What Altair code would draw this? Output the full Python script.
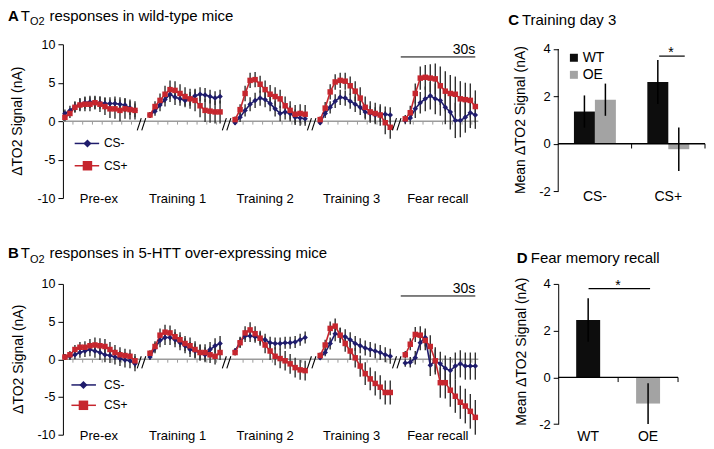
import altair as alt
import pandas as pd

FONT = "Liberation Sans"
BLUE = "#1f1c6c"
RED = "#c6262e"
ERRC = "#303030"
ZGRAY = "#9b9b9b"

# ---------------- time-course data (5 segments x 15 points) ----------------
segments = ["Pre-ex", "Training 1", "Training 2", "Training 3", "Fear recall"]
label_pos = [6.8, 5.5, 6.0, 6.3, 6.5]
series = ["CS-", "CS+"]
tick_pos = [1.6, 3.55, 5.5, 7.45, 9.4, 11.35, 13.3]
N_PTS = 15
SEG_STEP = 17

# Panel A : wild-type mice
wt_csm = [1.0, 1.4, 1.9, 2.2, 2.4, 2.5, 2.4, 2.4, 2.3, 2.3, 2.3, 2.2, 2.1, 1.7, 1.4,
          0.8, 1.3, 2.1, 2.8, 3.5, 3.1, 2.9, 2.7, 2.9, 3.3, 3.5, 3.4, 3.2, 3.0, 3.2,
          -0.2, 0.5, 1.4, 2.2, 2.7, 3.0, 2.8, 2.3, 1.6, 1.0, 1.2, 1.0, 0.5, 0.4, 0.3,
          -0.2, 1.0, 1.8, 2.6, 3.1, 3.0, 2.6, 2.2, 1.8, 1.2, 1.0, 0.8, 0.9, 0.9, 0.8,
          0.1, 0.4, 1.6, 2.4, 2.9, 3.3, 2.9, 2.7, 1.8, 1.2, 0.1, 0.1, 0.5, 1.1, 0.8]
wt_csm_err = [0.5, 0.6, 0.7, 0.8, 0.8, 0.8, 0.8, 0.8, 0.8, 0.8, 0.9, 0.9, 0.9, 0.9, 0.9,
              0.4, 0.6, 0.8, 0.9, 1.0, 1.0, 0.9, 0.9, 0.9, 0.9, 0.9, 0.9, 0.9, 0.9, 0.9,
              0.3, 0.6, 0.8, 0.9, 1.0, 1.0, 1.0, 1.0, 1.0, 1.0, 1.0, 1.0, 1.0, 1.0, 0.9,
              0.3, 0.6, 0.8, 0.9, 1.0, 1.0, 1.0, 1.0, 1.0, 1.0, 1.0, 1.0, 1.0, 1.0, 1.0,
              0.5, 0.8, 1.2, 1.4, 1.6, 1.8, 2.0, 2.0, 2.2, 2.3, 2.3, 2.2, 2.0, 2.0, 1.8]
wt_csp = [0.5, 1.0, 1.8, 2.1, 2.2, 2.2, 2.4, 2.2, 1.9, 1.6, 1.6, 1.4, 1.6, 1.5, 1.4,
          0.8, 1.9, 2.7, 3.5, 4.1, 4.0, 3.6, 3.2, 2.9, 2.7, 2.0, 1.4, 1.3, 1.2, 1.2,
          0.2, 1.5, 3.6, 5.3, 5.4, 4.8, 4.1, 3.5, 3.2, 2.9, 2.0, 1.4, 0.9, 1.0, 0.9,
          0.2, 1.7, 3.8, 5.1, 5.3, 5.2, 4.6, 3.9, 3.0, 1.8, 1.2, 1.0, 0.8, -0.2, -0.8,
          0.3, 1.1, 3.6, 5.6, 5.7, 5.6, 5.5, 4.6, 3.9, 3.6, 3.5, 2.9, 2.8, 2.7, 1.9]
wt_csp_err = [0.5, 0.6, 0.7, 0.8, 0.9, 0.9, 0.9, 1.0, 1.1, 1.2, 1.3, 1.4, 1.3, 1.3, 1.2,
              0.4, 0.7, 0.9, 1.1, 1.2, 1.2, 1.2, 1.2, 1.3, 1.4, 1.5, 1.5, 1.5, 1.5, 1.5,
              0.4, 0.7, 1.0, 1.0, 1.0, 1.1, 1.2, 1.2, 1.2, 1.2, 1.2, 1.2, 1.2, 1.2, 1.2,
              0.4, 0.8, 1.0, 1.0, 1.0, 1.1, 1.2, 1.3, 1.4, 1.4, 1.4, 1.4, 1.4, 1.5, 1.5,
              0.5, 0.9, 1.3, 1.5, 1.6, 1.8, 2.0, 2.5, 2.6, 2.4, 2.3, 2.3, 2.2, 2.2, 2.1]

# Panel B : 5-HTT over-expressing mice
oe_csm = [0.3, 0.4, 0.6, 0.9, 1.1, 1.3, 1.1, 0.9, 0.6, 0.5, 0.3, 0.1, -0.1, -0.2, -0.6,
          0.3, 1.5, 2.5, 2.9, 2.9, 2.6, 2.2, 1.8, 1.3, 1.1, 0.9, 0.6, 1.3, 1.8, 2.1,
          1.1, 2.3, 3.1, 3.1, 3.0, 2.8, 2.6, 2.2, 2.1, 2.1, 2.2, 2.2, 2.3, 2.6, 2.9,
          0.2, 0.9, 2.1, 3.4, 3.2, 3.0, 2.6, 2.1, 1.8, 1.5, 1.3, 1.1, 0.9, 0.6, 0.4,
          -0.5, -0.4, 0.2, 2.2, 2.9, -0.8, -0.2, -0.6, -1.2, -1.5, -0.9, -0.6, -0.9, -0.9, -0.9]
oe_csm_err = [0.4, 0.5, 0.6, 0.7, 0.8, 0.9, 0.9, 1.0, 1.0, 1.0, 1.0, 1.0, 1.0, 1.0, 1.0,
              0.4, 0.7, 0.9, 1.0, 1.0, 1.0, 1.0, 1.0, 1.0, 1.0, 1.0, 1.0, 1.0, 1.0, 1.0,
              0.4, 0.7, 0.8, 0.8, 0.8, 0.8, 0.8, 0.8, 0.8, 0.8, 0.8, 0.8, 0.8, 0.8, 0.8,
              0.3, 0.5, 0.8, 1.0, 1.0, 1.0, 1.0, 1.0, 1.0, 1.0, 1.0, 1.0, 1.0, 1.0, 1.0,
              0.5, 0.7, 0.9, 1.0, 1.2, 1.4, 1.5, 1.6, 1.7, 1.8, 1.8, 1.8, 1.8, 1.8, 1.8]
oe_csp = [0.3, 0.6, 1.3, 1.6, 1.6, 1.8, 1.9, 1.8, 1.7, 1.3, 0.9, 0.6, 0.5, 0.4, -0.2,
          0.8, 1.7, 3.2, 3.6, 3.5, 3.0, 2.6, 2.1, 1.8, 1.3, 0.9, 0.9, 0.6, 0.4, 0.9,
          0.9, 2.2, 3.5, 3.9, 3.4, 2.8, 1.9, 1.1, 0.4, 0.1, -0.2, -0.6, -1.1, -1.4, -1.5,
          0.5, 1.9, 4.1, 4.4, 3.2, 2.1, 1.1, 0.2, -0.9, -1.9, -2.6, -3.2, -3.7, -4.4, -4.4,
          0.6, 2.0, 3.3, 3.2, 2.5, 1.7, -0.2, -3.1, -3.1, -4.1, -4.9, -5.7, -6.2, -6.9, -7.7]
oe_csp_err = [0.4, 0.5, 0.6, 0.7, 0.8, 0.9, 1.0, 1.0, 1.0, 1.0, 1.0, 1.0, 0.9, 0.9, 0.9,
              0.4, 0.7, 0.9, 1.0, 1.0, 1.0, 1.0, 1.0, 1.1, 1.1, 1.1, 1.1, 1.1, 1.1, 1.0,
              0.4, 0.7, 0.9, 1.0, 1.0, 1.0, 1.1, 1.2, 1.2, 1.3, 1.3, 1.3, 1.3, 1.3, 1.3,
              0.4, 0.7, 0.9, 1.0, 1.0, 1.1, 1.2, 1.3, 1.4, 1.5, 1.5, 1.6, 1.6, 1.6, 1.6,
              0.5, 0.8, 1.0, 1.2, 1.3, 1.5, 1.8, 2.0, 2.1, 2.2, 2.2, 2.2, 2.3, 2.3, 2.3]

# ---------------- bar data ----------------
groups = ["WT", "OE"]
conds = ["CS-", "CS+"]
c_wt_mean = [1.36, 2.61]
c_wt_err = [0.68, 0.93]
c_oe_mean = [1.86, -0.23]
c_oe_err = [0.68, 0.92]
d_mean = [2.46, -1.12]
d_err = [0.93, 0.87]
BAR_COLORS = ["#0d0d0d", "#a3a3a3"]

one = pd.DataFrame({"k": [0]})
HYPHEN = "'' + datum.value"


def tc_frame(csm, csm_e, csp, csp_e):
    rows = []
    for name, m, e in (("CS-", csm, csm_e), ("CS+", csp, csp_e)):
        for i, (v, s) in enumerate(zip(m, e)):
            seg = i // N_PTS
            rows.append(dict(series=name, seg=seg, idx=seg * SEG_STEP + i % N_PTS,
                             val=v, lo=v - s, hi=v + s))
    return pd.DataFrame(rows)


def tc_panel(df, height, letter, title_text, base_y, ytitle_x, leg_x, leg_y, sb_y):
    xs = alt.Scale(domain=[-0.4, 82.6], nice=False, zero=False)
    ys = alt.Scale(domain=[-10, 10], nice=False, zero=False)
    yax = alt.Axis(values=[-10, -5, 0, 5, 10], grid=False, tickSize=5, labelPadding=3,
                   labelFontSize=12.5, domainColor="black", tickColor="black",
                   labelColor="black", domainWidth=1, tickWidth=1, labelExpr=HYPHEN)

    def XF(f):
        return alt.X(f, scale=xs, axis=None, title=None)

    def XD(v):
        return alt.XDatum(v, scale=xs, axis=None, title=None)

    def YF(f):
        return alt.Y(f, scale=ys, axis=yax, title=None)

    def YD(v):
        return alt.YDatum(v, scale=ys, axis=yax, title=None)

    col = alt.Color("series:N", scale=alt.Scale(domain=series, range=[BLUE, RED]), legend=None)
    shp = alt.Shape("series:N", scale=alt.Scale(domain=series, range=["diamond", "square"]), legend=None)

    zero = alt.Chart(one).mark_rule(color=ZGRAY, strokeWidth=1.5).encode(y=YD(0))
    tick_df = pd.DataFrame({"tx": [s * SEG_STEP + p for s in range(5) for p in tick_pos]})
    ticks = alt.Chart(tick_df).mark_rule(color=ZGRAY, strokeWidth=1).encode(
        x=XF("tx:Q"), y=YD(0), y2=alt.datum(-0.45))

    brk = []
    for k in range(1, 5):
        c = k * SEG_STEP - 1.7
        brk.append(dict(x1=c - 0.85, y1=-1.2, x2=c - 0.05, y2=0.4))
        brk.append(dict(x1=c + 0.05, y1=-1.2, x2=c + 0.85, y2=0.4))
    breaks = alt.Chart(pd.DataFrame(brk)).mark_rule(color="black", strokeWidth=1.1).encode(
        x=XF("x1:Q"), y=YF("y1:Q"), x2="x2:Q", y2="y2:Q")

    errs = alt.Chart(df).mark_rule(color=ERRC, strokeWidth=1.4).encode(
        x=XF("idx:Q"), y=YF("lo:Q"), y2="hi:Q")
    lines = alt.Chart(df).mark_line(strokeWidth=1.6).encode(
        x=XF("idx:Q"), y=YF("val:Q"), color=col, detail="seg:N")
    pts = alt.Chart(df).mark_point(filled=True, size=30, opacity=1).encode(
        x=XF("idx:Q"), y=YF("val:Q"), color=col, shape=shp)

    lab_df = pd.DataFrame({"label": segments,
                           "cx": [i * SEG_STEP + p for i, p in enumerate(label_pos)]})
    labels = alt.Chart(lab_df).mark_text(fontSize=13, baseline="alphabetic", dy=5,
                                         align="center").encode(
        x=XF("cx:Q"), y=YD(-10), text="label:N")

    sbar = alt.Chart(one).mark_rule(color="black", strokeWidth=1).encode(
        x=XD(67.1), x2=alt.datum(82), y=YD(sb_y))
    stext = alt.Chart(one).mark_text(align="right", baseline="alphabetic", dy=-3,
                                     fontSize=14).encode(
        x=XD(82), y=YD(sb_y), text=alt.value("30s"))

    leg_df = pd.DataFrame({"series": series, "ly": leg_y,
                           "x1": [leg_x[0]] * 2, "x2": [leg_x[1]] * 2,
                           "xm": [leg_x[2]] * 2, "xt": [leg_x[3]] * 2})
    leg_line = alt.Chart(leg_df).mark_rule(strokeWidth=1.5).encode(
        x=XF("x1:Q"), x2="x2:Q", y=YF("ly:Q"), color=col)
    leg_pt = alt.Chart(leg_df).mark_point(filled=True, opacity=1).encode(
        x=XF("xm:Q"), y=YF("ly:Q"), color=col, shape=shp,
        size=alt.Size("series:N", scale=alt.Scale(domain=series, range=[64, 90]), legend=None))
    leg_txt = alt.Chart(leg_df).mark_text(align="left", baseline="middle", fontSize=12).encode(
        x=XF("xt:Q"), y=YF("ly:Q"), text="series:N")

    ytitle = alt.Chart(one).mark_text(angle=270, fontSize=14, baseline="middle",
                                      align="center").encode(
        x=alt.value(ytitle_x), y=YD(0), text=alt.value("ΔTO2 Signal (nA)"))

    t1 = alt.Chart(one).mark_text(align="left", baseline="alphabetic", fontSize=15,
                                  fontWeight="bold").encode(
        x=alt.value(-55), y=alt.value(base_y), text=alt.value(letter))
    t2 = alt.Chart(one).mark_text(align="left", baseline="alphabetic", fontSize=15).encode(
        x=alt.value(-42.2), y=alt.value(base_y), text=alt.value("T"))
    t3 = alt.Chart(one).mark_text(align="left", baseline="alphabetic", fontSize=11).encode(
        x=alt.value(-33), y=alt.value(base_y + 4.5), text=alt.value("O2"))
    t4 = alt.Chart(one).mark_text(align="left", baseline="alphabetic", fontSize=15).encode(
        x=alt.value(-13.5), y=alt.value(base_y), text=alt.value(title_text))

    return alt.layer(zero, ticks, errs, lines, pts, breaks, labels, sbar, stext,
                     leg_line, leg_pt, leg_txt, ytitle, t1, t2, t3, t4).properties(
        width=416, height=height)


dfA = tc_frame(wt_csm, wt_csm_err, wt_csp, wt_csp_err)
dfB = tc_frame(oe_csm, oe_csm_err, oe_csp, oe_csp_err)

panelA = tc_panel(dfA, 154, "A", "responses in wild-type mice", -23.7, -45.4,
                  [1.95, 6.84, 4.5, 7.8], [-2.9, -5.8], 8.35)
panelB = tc_panel(dfB, 151, "B", "responses in 5-HTT over-expressing mice", -25.6, -44.2,
                  [1.3, 6.2, 3.7, 7.8], [-3.4, -6.1], 8.4)

# ---------------- Panel C ----------------
c_df = pd.DataFrame({"cond": conds * 2, "grp": ["WT", "WT", "OE", "OE"],
                     "val": c_wt_mean + c_oe_mean, "err": c_wt_err + c_oe_err})
c_df["lo"] = c_df["val"] - c_df["err"]
c_df["hi"] = c_df["val"] + c_df["err"]

xsC = alt.Scale(domain=conds, paddingInner=0, paddingOuter=0)
xoC = alt.XOffset("grp:N", scale=alt.Scale(domain=groups, paddingInner=0, paddingOuter=0.75))
ysC = alt.Scale(domain=[-2, 4.2], nice=False, zero=False)
yaxC = alt.Axis(values=[-2, 0, 2, 4], grid=False, domain=False, tickSize=5, labelPadding=3,
                labelFontSize=13, tickColor="black", labelColor="black", labelExpr=HYPHEN)
colB = alt.Color("grp:N", scale=alt.Scale(domain=groups, range=BAR_COLORS), legend=None)


def YC(f):
    return alt.Y(f, scale=ysC, axis=yaxC, title=None)


def YCD(v):
    return alt.YDatum(v, scale=ysC, axis=yaxC, title=None)


xC = alt.X("cond:N", scale=xsC, axis=None, title=None)
c_bars = alt.Chart(c_df).mark_bar().encode(x=xC, xOffset=xoC,
                                           y=alt.Y("val:Q", scale=ysC, axis=yaxC, title=None, stack=None),
                                           color=colB)
c_errs = alt.Chart(c_df).mark_rule(color="black", strokeWidth=1.5).encode(
    x=xC, xOffset=xoC, y=YC("lo:Q"), y2="hi:Q")
c_zero = alt.Chart(one).mark_rule(color="black", strokeWidth=1.3).encode(y=YCD(0))
c_axis = alt.Chart(one).mark_rule(color="black", strokeWidth=1).encode(
    x=alt.value(0), y=YCD(-2), y2=alt.datum(4))
cond_df = pd.DataFrame({"cond": conds})
c_ticks = alt.Chart(cond_df).mark_rule(color="black", strokeWidth=1).encode(
    x=alt.X("cond:N", scale=xsC, axis=None, title=None, bandPosition=1),
    y=YCD(0), y2=alt.datum(-0.2))
c_labels = alt.Chart(cond_df).mark_text(fontSize=14, baseline="alphabetic", dy=9.7).encode(
    x=xC, y=YCD(-2), text="cond:N")
c_leg_df = pd.DataFrame({"grp": groups, "ly": [3.63, 2.91]})
c_leg_sq = alt.Chart(c_leg_df).mark_square(size=64, opacity=1).encode(
    x=alt.value(15.7), y=YC("ly:Q"), color=colB)
c_leg_tx = alt.Chart(c_leg_df).mark_text(align="left", baseline="middle", fontSize=14).encode(
    x=alt.value(24.5), y=YC("ly:Q"), text="grp:N")
c_sig = alt.Chart(one).mark_rule(color="black", strokeWidth=1.2).encode(
    x=alt.value(101.1), x2=alt.value(126.7), y=YCD(3.7))
c_star = alt.Chart(one).mark_text(fontSize=14, baseline="alphabetic", dy=1, align="center").encode(
    x=alt.value(112.9), y=YCD(3.7), text=alt.value("*"))
c_ytitle = alt.Chart(one).mark_text(angle=270, fontSize=14, baseline="middle", align="center").encode(
    x=alt.value(-37.5), y=YCD(1.0), text=alt.value("Mean ΔTO2 Signal (nA)"))
c_t1 = alt.Chart(one).mark_text(align="left", baseline="alphabetic", fontSize=15, fontWeight="bold").encode(
    x=alt.value(-50.1), y=alt.value(-19.5), text=alt.value("C"))
c_t2 = alt.Chart(one).mark_text(align="left", baseline="alphabetic", fontSize=15).encode(
    x=alt.value(-36.3), y=alt.value(-19.5), text=alt.value("Training day 3"))

panelC = alt.layer(c_bars, c_errs, c_zero, c_axis, c_ticks, c_labels, c_leg_sq, c_leg_tx,
                   c_sig, c_star, c_ytitle, c_t1, c_t2).properties(width=147, height=147.1)

# ---------------- Panel D ----------------
d_df = pd.DataFrame({"grp": groups, "val": d_mean, "err": d_err})
d_df["lo"] = d_df["val"] - d_df["err"]
d_df["hi"] = d_df["val"] + d_df["err"]
xsD = alt.Scale(domain=groups, paddingInner=0, paddingOuter=0)
ysD = alt.Scale(domain=[-2, 4], nice=False, zero=False)
yaxD = alt.Axis(values=[-2, 0, 2, 4], grid=False, domain=True, domainColor="black",
                tickSize=5, labelPadding=3, labelFontSize=13, tickColor="black",
                labelColor="black", labelExpr=HYPHEN)


def YDf(f):
    return alt.Y(f, scale=ysD, axis=yaxD, title=None)


def YDd(v):
    return alt.YDatum(v, scale=ysD, axis=yaxD, title=None)


xD = alt.X("grp:N", scale=xsD, axis=None, title=None)
d_bars = alt.Chart(d_df).mark_bar(width=alt.RelativeBandSize(0.4)).encode(
    x=xD, y=alt.Y("val:Q", scale=ysD, axis=yaxD, title=None, stack=None), color=colB)
d_errs = alt.Chart(d_df).mark_rule(color="black", strokeWidth=1.5).encode(
    x=xD, y=YDf("lo:Q"), y2="hi:Q")
d_zero = alt.Chart(one).mark_rule(color="black", strokeWidth=1.3).encode(y=YDd(0))
grp_df = pd.DataFrame({"grp": groups})
d_ticks = alt.Chart(grp_df).mark_rule(color="black", strokeWidth=1).encode(
    x=alt.X("grp:N", scale=xsD, axis=None, title=None, bandPosition=1),
    y=YDd(0), y2=alt.datum(-0.2))
d_labels = alt.Chart(grp_df).mark_text(fontSize=14, baseline="alphabetic", dy=16.6).encode(
    x=xD, y=YDd(-2), text="grp:N")
d_sig = alt.Chart(one).mark_rule(color="black", strokeWidth=1.2).encode(
    x=alt.value(30.4), x2=alt.value(92), y=YDd(3.8))
d_star = alt.Chart(one).mark_text(fontSize=14, baseline="alphabetic", dy=1, align="center").encode(
    x=alt.value(59.9), y=YDd(3.8), text=alt.value("*"))
d_ytitle = alt.Chart(one).mark_text(angle=270, fontSize=14, baseline="middle", align="center").encode(
    x=alt.value(-36.4), y=YDd(1.1), text=alt.value("Mean ΔTO2 Signal (nA)"))
d_t1 = alt.Chart(one).mark_text(align="left", baseline="alphabetic", fontSize=15, fontWeight="bold").encode(
    x=alt.value(-41.5), y=alt.value(-21), text=alt.value("D"))
d_t2 = alt.Chart(one).mark_text(align="left", baseline="alphabetic", fontSize=15).encode(
    x=alt.value(-27.5), y=alt.value(-21), text=alt.value("Fear memory recall"))

panelD = alt.layer(d_bars, d_errs, d_zero, d_ticks, d_labels, d_sig, d_star, d_ytitle,
                   d_t1, d_t2).properties(width=120, height=140.4)

chart = alt.concat(panelA, panelC, panelB, panelD, columns=2,
                   spacing=alt.RowColnumber(row=86, column=80),
                   bounds="flush").resolve_scale(
    color="independent", shape="independent", size="independent"
).properties(padding=0).configure(font=FONT).configure_view(stroke=None)

chart.save("out.html", embed_options={"renderer": "svg", "actions": False})
